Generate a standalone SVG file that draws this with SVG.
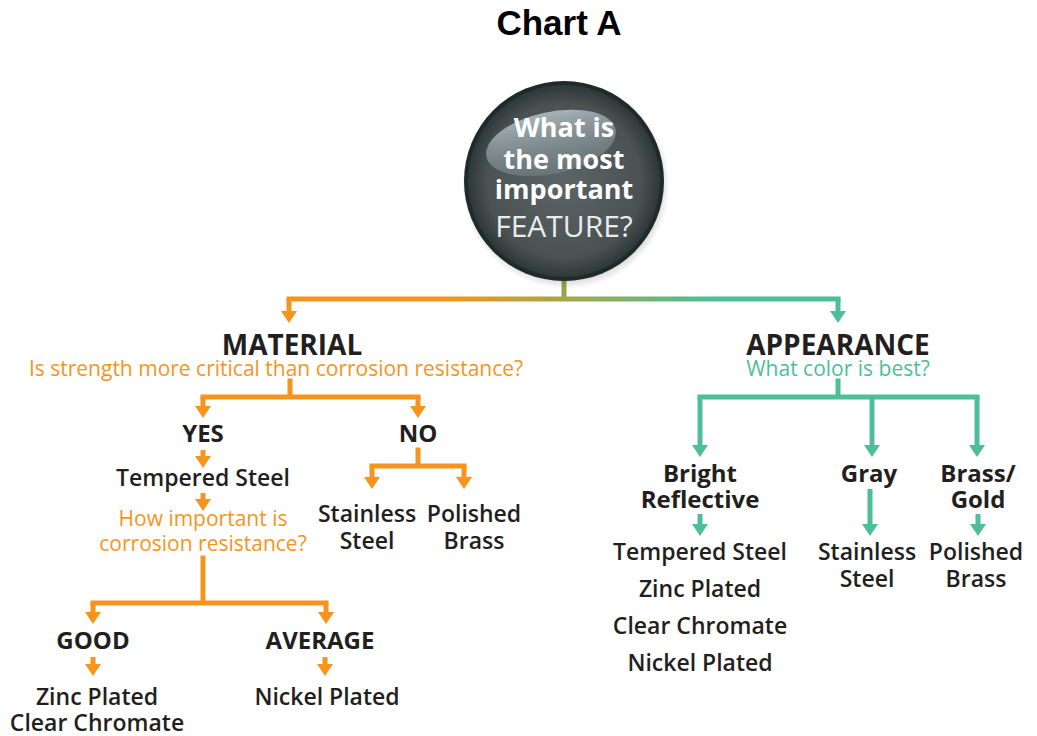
<svg xmlns="http://www.w3.org/2000/svg" width="1037" height="736" viewBox="0 0 1037 736">
<defs>
<style>
.t{font-family:"Open Sans","Noto Sans","Liberation Sans",sans-serif;fill:#231f20;text-anchor:middle}
.b{font-weight:700}
.h{font-size:28px;font-weight:700}
.l{font-size:23px;font-weight:600}
.bl{font-size:24px;font-weight:700}
.o{fill:#f7941d;font-size:21px}
.g{fill:#4cbf99;font-size:21px}
.w{fill:#ffffff;font-family:"Open Sans","Noto Sans",sans-serif;text-anchor:middle}
.co{fill:none;stroke:#f7941d;stroke-width:5}
.ct{fill:none;stroke:#4cbf99;stroke-width:5}
.ao{marker-end:url(#ao)}
.at{marker-end:url(#at)}
</style>
<marker id="ao" markerUnits="userSpaceOnUse" markerWidth="12" markerHeight="16" refX="0" refY="8" orient="auto" viewBox="0 0 12 16"><path d="M0,0 L12,8 L0,16 Z" fill="#f7941d"/></marker>
<marker id="at" markerUnits="userSpaceOnUse" markerWidth="12" markerHeight="16" refX="0" refY="8" orient="auto" viewBox="0 0 12 16"><path d="M0,0 L12,8 L0,16 Z" fill="#4cbf99"/></marker>
<linearGradient id="lg" gradientUnits="userSpaceOnUse" x1="286" y1="0" x2="841" y2="0">
<stop offset="0" stop-color="#f7941d"/>
<stop offset="0.29" stop-color="#f7941d"/>
<stop offset="0.5" stop-color="#a5a748"/>
<stop offset="0.77" stop-color="#4cbf99"/>
<stop offset="1" stop-color="#4cbf99"/>
</linearGradient>
<radialGradient id="cg" cx="0.5" cy="0.5" r="0.5">
<stop offset="0" stop-color="#5c6466"/>
<stop offset="0.8" stop-color="#4a5254"/>
<stop offset="1" stop-color="#2f3839"/>
</radialGradient>
<linearGradient id="gl" x1="0" y1="0" x2="0" y2="1">
<stop offset="0" stop-color="#c5d2d6" stop-opacity="0.75"/>
<stop offset="1" stop-color="#8a999d" stop-opacity="0.35"/>
</linearGradient>
<radialGradient id="sh" cx="0.5" cy="0.5" r="0.5">
<stop offset="0.85" stop-color="#000" stop-opacity="0.25"/>
<stop offset="1" stop-color="#000" stop-opacity="0"/>
</radialGradient>
</defs>
<rect width="1037" height="736" fill="#ffffff"/>
<text x="559" y="35" style="font-family:'Liberation Sans',Arial,sans-serif;font-weight:700;font-size:35px;fill:#000;text-anchor:middle">Chart A</text>

<g id="connectors">
<path d="M564,281 V299" fill="none" stroke="#8fa64a" stroke-width="5"/>
<path d="M289,299 H838" fill="none" stroke="url(#lg)" stroke-width="5" stroke-linecap="square"/>
<path class="co ao" d="M289,299 V311"/>
<path class="ct at" d="M838,299 V311"/>
<path class="co" d="M290,381 V397 M203,397 H418" stroke-linecap="square"/>
<path class="co ao" d="M203,397 V406"/>
<path class="co ao" d="M418,397 V406"/>
<path class="co ao" d="M203,450 V456"/>
<path class="co ao" d="M203,493 V499"/>
<path class="co" d="M203,558 V603 M93,603 H326" stroke-linecap="square"/>
<path class="co ao" d="M93,603 V612"/>
<path class="co ao" d="M326,603 V612"/>
<path class="co ao" d="M93,657 V664"/>
<path class="co ao" d="M325,657 V664"/>
<path class="co" d="M418,450 V466 M372,466 H464" stroke-linecap="square"/>
<path class="co ao" d="M372,466 V477"/>
<path class="co ao" d="M464,466 V477"/>
<path class="ct" d="M838,381 V397 M700,397 H977" stroke-linecap="square"/>
<path class="ct at" d="M700,397 V445"/>
<path class="ct at" d="M872,397 V445"/>
<path class="ct at" d="M977,397 V445"/>
<path class="ct at" d="M700,514 V524"/>
<path class="ct at" d="M870,489 V524"/>
<path class="ct at" d="M978,514 V524"/>
</g>

<g id="feature">
<circle cx="566" cy="185" r="104" fill="url(#sh)"/>
<circle cx="564" cy="181" r="100" fill="#1f2a2b"/>
<circle cx="564" cy="181" r="96" fill="url(#cg)"/>
<ellipse cx="551" cy="143" rx="66" ry="31" fill="url(#gl)" transform="rotate(-12 551 143)"/>
<text class="w b" x="564" y="137" font-size="27">What is</text>
<text class="w b" x="564" y="169" font-size="27">the most</text>
<text class="w b" x="564" y="199" font-size="27">important</text>
<text class="w" x="564" y="237" font-size="30" style="fill:#e8ecec">FEATURE?</text>
</g>

<g id="material">
<text class="t h" x="292" y="355">MATERIAL</text>
<text class="t o" x="276" y="376">Is strength more critical than corrosion resistance?</text>
</g>
<g id="appearance">
<text class="t h" x="838" y="355">APPEARANCE</text>
<text class="t g" x="838" y="376">What color is best?</text>
</g>

<g id="yes"><text class="t bl" x="203" y="442">YES</text></g>
<g id="no"><text class="t bl" x="418" y="442">NO</text></g>
<g id="tempered"><text class="t l" x="203" y="486">Tempered Steel</text></g>
<g id="how"><text class="t o" x="203" y="526">How important is</text><text class="t o" x="203" y="551">corrosion resistance?</text></g>
<g id="good"><text class="t bl" x="93" y="649">GOOD</text></g>
<g id="average"><text class="t bl" x="320" y="649">AVERAGE</text></g>
<g id="good-res"><text class="t l" x="97" y="705">Zinc Plated</text><text class="t l" x="97" y="731">Clear Chromate</text></g>
<g id="avg-res"><text class="t l" x="327" y="705">Nickel Plated</text></g>
<g id="no-stainless"><text class="t l" x="367" y="522">Stainless</text><text class="t l" x="367" y="549">Steel</text></g>
<g id="no-brass"><text class="t l" x="474" y="522">Polished</text><text class="t l" x="474" y="549">Brass</text></g>

<g id="bright"><text class="t bl" x="700" y="482">Bright</text><text class="t bl" x="700" y="508">Reflective</text></g>
<g id="gray"><text class="t bl" x="869" y="482">Gray</text></g>
<g id="brassgold"><text class="t bl" x="978" y="482">Brass/</text><text class="t bl" x="978" y="508">Gold</text></g>
<g id="bright-res">
<text class="t l" x="700" y="560">Tempered Steel</text>
<text class="t l" x="700" y="597">Zinc Plated</text>
<text class="t l" x="700" y="634">Clear Chromate</text>
<text class="t l" x="700" y="671">Nickel Plated</text>
</g>
<g id="gray-res"><text class="t l" x="867" y="560">Stainless</text><text class="t l" x="867" y="587">Steel</text></g>
<g id="brass-res"><text class="t l" x="976" y="560">Polished</text><text class="t l" x="976" y="587">Brass</text></g>
</svg>
